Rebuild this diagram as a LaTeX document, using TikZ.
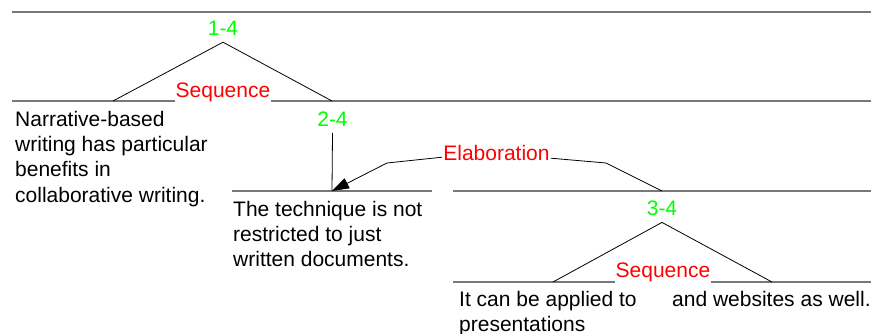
\documentclass[tikz,border=0pt]{standalone}
\usepackage{fontspec}
\setmainfont{Liberation Sans}
\usetikzlibrary{arrows.meta}
\definecolor{spangray}{RGB}{120,120,120}
\definecolor{nucgreen}{RGB}{0,255,0}
\definecolor{relred}{RGB}{255,0,0}
\begin{document}
\begin{tikzpicture}[x=1pt,y=-1pt,
  span/.style={draw=spangray,line width=1.3pt},
  leg/.style={draw=black,line width=0.8pt},
  rel/.style={text=relred,inner xsep=1pt,inner ysep=2pt,font=\fontsize{21}{25}\selectfont},
  relfill/.style={rel,fill=white},
  nuc/.style={text=nucgreen,inner xsep=0pt,inner ysep=6pt,font=\fontsize{21}{25}\selectfont},
  seg/.style={align=left,anchor=north west,inner sep=0pt,font=\fontsize{21}{25.3}\selectfont}]
\useasboundingbox (0,0) rectangle (871,334);
% span lines
\coordinate (s1a) at (12,12);   \coordinate (s1b) at (871,12);
\coordinate (s2a) at (12,101);  \coordinate (s2b) at (871,101);
\coordinate (s3a) at (232,191); \coordinate (s3b) at (432,191);
\coordinate (s4a) at (453,191); \coordinate (s4b) at (871,191);
\coordinate (s5a) at (453,282); \coordinate (s5b) at (871,282);
\draw[span] (s1a) -- (s1b);
\draw[span] (s2a) -- (s2b);
\draw[span] (s3a) -- (s3b);
\draw[span] (s4a) -- (s4b);
\draw[span] (s5a) -- (s5b);
% feet
\coordinate (f1l) at (113,101);
\coordinate (f1r) at (332,101);
\coordinate (f2) at (332,191);
\coordinate (f4) at (662,191);
\coordinate (f5l) at (553,282);
\coordinate (f5r) at (772,282);
\coordinate (e1) at (387,163);
\coordinate (e2) at (606,163);
% nucleus labels
\node[nuc,anchor=base] (n14) at (223,36) {1-4};
\node[nuc,anchor=base] (n24) at (332.5,126.7) {2-4};
\node[nuc,anchor=base] (n34) at (662,216) {3-4};
% trees
\draw[leg] (f1l) -- (n14.south) -- (f1r);
\draw[leg] (n24.south) -- (f2);
\draw[leg] (f5l) -- (n34.south) -- (f5r);
% relation labels
\node[relfill,anchor=base] (seq1) at (223,98) {Sequence};
\node[relfill,anchor=base] (seq2) at (663,277.7) {Sequence};
\node[rel,anchor=base] (elab) at (496.5,160.7) {Elaboration};
\draw[leg,-{Triangle[length=17pt,width=11pt]}] ([yshift=-4pt]elab.west) -- (e1) -- (f2);
\draw[leg] ([yshift=-5pt]elab.east) -- (e2) -- (f4);
% segments
\node[seg] (t1) at (15,110.8) {Narrative-based\\writing has particular\\benefits in\\collaborative writing.};
\node[seg] (t2) at (233,200.8) {The technique is not\\restricted to just\\written documents.};
\node[seg] (t3) at (459,290.8) {It can be applied to\\presentations};
\node[seg] (t4) at (672,290.8) {and websites as well.};
\end{tikzpicture}
\end{document}
